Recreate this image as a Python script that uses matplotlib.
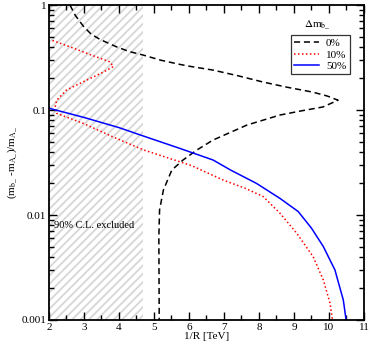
import matplotlib
matplotlib.use("Agg")
import matplotlib.pyplot as plt
from matplotlib.ticker import FixedLocator, FixedFormatter, LogLocator, NullFormatter, MultipleLocator
from matplotlib.lines import Line2D

plt.rcParams['font.family'] = ['Liberation Serif', 'DejaVu Serif']
plt.rcParams['mathtext.fontset'] = 'stix'
plt.rcParams['hatch.linewidth'] = 1.3

# 0% curve (multi-valued in 1/R)
x0 = [2.6, 2.75, 2.98, 3.2, 3.46, 3.93, 4.3, 4.69, 5.2, 5.74, 6.05, 6.69, 7.4, 8.11, 8.8, 9.54, 9.95, 10.26,
      9.83, 9.2, 8.6, 7.66, 6.69, 6.23, 5.83, 5.51, 5.27, 5.16, 5.14, 5.15]
y0 = [1.0, 0.80, 0.63, 0.53, 0.47, 0.40, 0.36, 0.334, 0.298, 0.272, 0.26, 0.24, 0.212, 0.185, 0.165, 0.148, 0.136, 0.124,
      0.107, 0.098, 0.0896, 0.072, 0.0518, 0.0417, 0.0334, 0.0268, 0.0173, 0.0112, 0.0062, 0.001]

# 10% curve
x10 = [2.1, 2.6, 3.2, 3.74, 3.84, 3.5, 3.08, 2.5, 2.22, 2.17, 2.22, 2.98, 3.8, 4.7, 5.4,
       6.08, 6.98, 7.6, 8.12, 8.6, 9.08, 9.55, 9.84, 10.03, 10.1]
y10 = [0.46, 0.40, 0.335, 0.288, 0.259, 0.225, 0.193, 0.155, 0.124, 0.104, 0.093, 0.0746, 0.056, 0.0417, 0.035,
       0.0295, 0.0215, 0.018, 0.015, 0.0104, 0.0067, 0.004, 0.0024, 0.00145, 0.001]

# 50% curve
x50 = [2.0, 3.0, 4.0, 4.7, 5.74, 6.69, 7.19, 7.93, 8.6, 9.12, 9.5, 9.84, 10.17, 10.41, 10.49]
y50 = [0.104, 0.085, 0.068, 0.0565, 0.0431, 0.0334, 0.0268, 0.02, 0.0144, 0.0108, 0.0075, 0.005, 0.003, 0.00155, 0.001]

excl_lo, excl_hi = 2.0, 4.7
xticks = [2, 3, 4, 5, 6, 7, 8, 9, 10, 11]
yticks = [0.001, 0.01, 0.1, 1]
ylabels = ['0.001', '0.01', '0.1', '1']
leg_labels = ['0%', '10%', '50%']

fig = plt.figure(figsize=(3.71, 3.48), dpi=100)
ax = fig.add_axes([0.132, 0.0805, 0.849, 0.905])
ax.set_yscale('log')
ax.set_xlim(2, 11)
ax.set_ylim(0.001, 1)

ax.axvspan(excl_lo, excl_hi, facecolor='white', edgecolor='#d6d6d6', hatch='////', linewidth=0, zorder=0)

ax.plot(x0, y0, color='black', linestyle=(0, (4, 2.5)), linewidth=1.1)
ax.plot(x10, y10, color='red', linestyle=(0, (1, 1.6)), linewidth=1.1)
ax.plot(x50, y50, color='blue', linestyle='-', linewidth=1.1)

ax.text(2.14, 0.0080, '90% C.L. excluded', fontsize=7.5, va='center', ha='left')

ax.xaxis.set_major_locator(FixedLocator(xticks))
ax.xaxis.set_minor_locator(MultipleLocator(0.5))
ax.yaxis.set_major_locator(FixedLocator(yticks))
ax.yaxis.set_major_formatter(FixedFormatter(ylabels))
ax.yaxis.set_minor_locator(LogLocator(base=10, subs=range(2, 10)))
ax.yaxis.set_minor_formatter(NullFormatter())
ax.tick_params(which='both', direction='in', top=True, right=True, labelsize=8, width=1.0, pad=2)
ax.tick_params(which='major', length=6)
ax.tick_params(which='minor', length=3.5)
for s in ax.spines.values():
    s.set_linewidth(1.3)

ax.set_xlabel('1/R [TeV]', fontsize=8, labelpad=0)
ax.set_ylabel(r'(m$_{\mathrm{b\_}}$ -m$_{\mathrm{A\_}}$)/m$_{\mathrm{A\_}}$', fontsize=8, labelpad=2)

handles = [Line2D([], [], color='black', linestyle=(0, (4, 2.5)), linewidth=1.1),
           Line2D([], [], color='red', linestyle=(0, (1, 1.6)), linewidth=1.1),
           Line2D([], [], color='blue', linestyle='-', linewidth=1.1)]
leg = ax.legend(handles, leg_labels, loc='upper right', bbox_to_anchor=(0.955, 0.905), fontsize=8,
                frameon=True, fancybox=False, edgecolor='black', handlelength=2.3,
                borderpad=0.3, labelspacing=0.15, handletextpad=0.6, borderaxespad=0)
leg.get_frame().set_linewidth(0.9)
ax.text(9.66, 0.65, r'$\Delta$m$_{\mathrm{b\_}}$', fontsize=8, ha='center', va='center')

fig.savefig('out.png', dpi=100)
